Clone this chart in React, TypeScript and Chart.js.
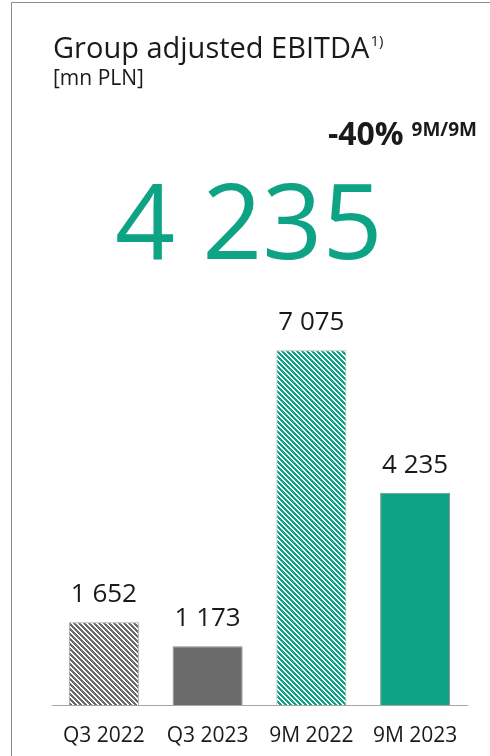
import React, { useEffect, useRef } from 'react';
import { Chart, registerables } from 'chart.js';

Chart.register(...registerables);

// ---- data ----
const categories = ['Q3 2022', 'Q3 2023', '9M 2022', '9M 2023'];
const values = [1652, 1173, 7075, 4235];
const axisRange = [0, 8000];
const titleText = 'Group adjusted EBITDA';
const titleNote = '1)';
const unitText = '[mn PLN]';
const compareLabel = '9M/9M';

// ---- style ----
const TEAL = '#0FA386';
const GRAY = '#6B6B6B';
const TEXT = '#1a1a1a';
const FONT = '"Open Sans", "Noto Sans", sans-serif';

function fmt(v: number): string {
  return String(v).replace(/\B(?=(\d{3})+(?!\d))/g, ' ');
}

function hatch(color: string): CanvasPattern | string {
  const P = 5;
  const c = document.createElement('canvas');
  c.width = P;
  c.height = P;
  const ctx = c.getContext('2d');
  if (!ctx) return color;
  ctx.fillStyle = '#ffffff';
  ctx.fillRect(0, 0, P, P);
  ctx.fillStyle = color;
  for (let y = 0; y < P; y++) {
    for (let x = 0; x < P; x++) {
      if ((((x - y) % P) + P) % P < 3) ctx.fillRect(x, y, 1, 1);
    }
  }
  return ctx.createPattern(c, 'repeat') || color;
}

const decor = {
  id: 'decor',
  beforeDraw(chart: any) {
    const ctx: CanvasRenderingContext2D = chart.ctx;
    ctx.save();
    ctx.fillStyle = '#ffffff';
    ctx.fillRect(0, 0, chart.width, chart.height);
    // frame (left + top)
    ctx.strokeStyle = '#8c8c8c';
    ctx.lineWidth = 1;
    ctx.beginPath();
    ctx.moveTo(11.5, chart.height);
    ctx.lineTo(11.5, 2.5);
    ctx.lineTo(chart.width, 2.5);
    ctx.stroke();

    // title
    ctx.fillStyle = TEXT;
    ctx.textBaseline = 'alphabetic';
    ctx.textAlign = 'left';
    ctx.font = `29px ${FONT}`;
    ctx.fillText(titleText, 53, 58);
    const tw = ctx.measureText(titleText).width;
    ctx.font = `15px ${FONT}`;
    ctx.fillText(titleNote, 53 + tw + 1, 46);
    ctx.font = `21px ${FONT}`;
    ctx.fillText(unitText, 53, 85);

    // change vs previous period
    const last = values[values.length - 1];
    const prev = values[values.length - 2];
    const pct = Math.round(((last - prev) / prev) * 100);
    const pctText = `${pct}%`;
    ctx.font = `bold 19px ${FONT}`;
    const sw = ctx.measureText(compareLabel).width;
    const supX = 477 - sw;
    ctx.fillText(compareLabel, supX, 136);
    ctx.font = `bold 32px ${FONT}`;
    ctx.textAlign = 'right';
    ctx.fillText(pctText, supX - 8, 145);

    // big headline number
    ctx.textAlign = 'left';
    ctx.fillStyle = TEAL;
    ctx.font = `105px ${FONT}`;
    ctx.fillText(fmt(last), 115, 259);
    ctx.restore();
  },
  afterDatasetsDraw(chart: any) {
    const ctx: CanvasRenderingContext2D = chart.ctx;
    const meta = chart.getDatasetMeta(0);
    ctx.save();
    ctx.fillStyle = TEXT;
    ctx.font = `26px ${FONT}`;
    ctx.textAlign = 'center';
    ctx.textBaseline = 'alphabetic';
    meta.data.forEach((bar: any, i: number) => {
      ctx.fillText(fmt(values[i]), bar.x, bar.y - 20);
    });
    ctx.restore();
  },
};

export default function App() {
  const ref = useRef<HTMLCanvasElement | null>(null);

  useEffect(() => {
    if (!ref.current) return;
    const fills = [hatch(GRAY), GRAY, hatch(TEAL), TEAL];
    const chart = new Chart(ref.current, {
      type: 'bar',
      data: {
        labels: categories,
        datasets: [
          {
            data: values,
            backgroundColor: fills as any,
            borderColor: ['#a6a6a6', '#8a8a8a', '#b5b5b5', '#8a8a8a'],
            borderWidth: 1,
            barPercentage: 0.675,
            categoryPercentage: 1,
          },
        ],
      },
      options: {
        responsive: false,
        animation: false,
        devicePixelRatio: 1,
        layout: { padding: { left: 52, right: 23, top: 304, bottom: 8 } },
        plugins: {
          legend: { display: false },
          tooltip: { enabled: false },
          title: { display: false },
        },
        scales: {
          x: {
            grid: { display: false, drawTicks: false },
            border: { display: true, color: '#a6a6a6', width: 1 },
            ticks: {
              padding: 18,
              color: TEXT,
              font: { family: FONT, size: 21 },
              maxRotation: 0,
            },
            afterFit: (scale: any) => {
              scale.height = 43;
            },
          },
          y: {
            display: false,
            min: axisRange[0],
            max: axisRange[1],
          },
        },
      },
      plugins: [decor],
    });
    return () => chart.destroy();
  }, []);

  return (
    <div style={{ position: 'absolute', left: 0, top: 0, width: 490, height: 756 }}>
      <canvas ref={ref} width={490} height={756} style={{ display: 'block' }} />
    </div>
  );
}
